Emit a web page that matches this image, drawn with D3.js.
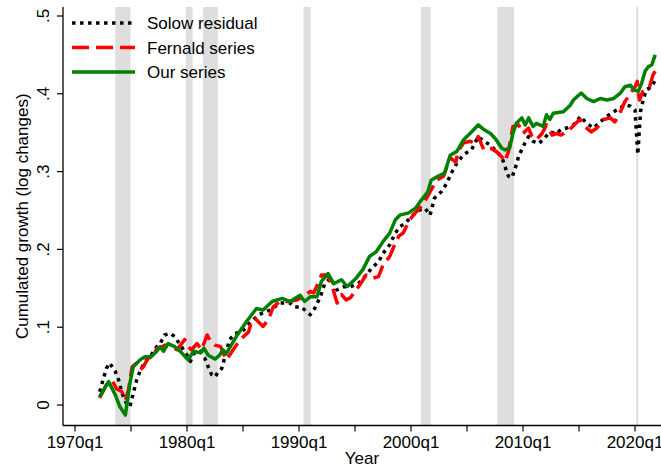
<!DOCTYPE html>
<html>
<head>
<meta charset="utf-8">
<script src="https://cdn.jsdelivr.net/npm/d3@7"></script>
<style>
  body { margin: 0; background: #fff; }
  svg text { font-family: "Liberation Sans", Arial, sans-serif; fill: #000; }
</style>
</head>
<body>
<div id="chart"></div>
<script>
// Recession bands (decimal years)
const recStart = [1973.6, 1979.9, 1981.45, 1990.4, 2000.9, 2007.7, 2020.1];
const recEnd = [1974.95, 1980.5, 1982.75, 1991.05, 2001.76, 2009.2, 2020.3];

// Solow residual
const solowYear = [1972.2, 1972.8, 1973.1, 1973.6, 1973.9, 1974.2, 1974.6, 1974.9, 1975.2, 1975.5, 1975.8, 1976.25, 1976.7, 1977.3, 1977.6, 1978.0, 1978.5, 1978.9, 1979.4, 1980.0, 1980.3, 1980.6, 1981.2, 1981.6, 1981.9, 1982.2, 1982.5, 1982.8, 1983.1, 1983.8, 1984.3, 1984.9, 1985.6, 1986.4, 1987.4, 1988.3, 1989.2, 1989.6, 1990.2, 1990.7, 1991.0, 1991.4, 1991.9, 1992.3, 1992.8, 1993.4, 1994.0, 1994.6, 1995.3, 1996.0, 1996.5, 1997.1, 1997.5, 1998.1, 1998.6, 1999.0, 1999.5, 1999.9, 2000.4, 2000.8, 2001.25, 2001.7, 2002.1, 2002.7, 2003.2, 2003.6, 2004.1, 2004.7, 2005.4, 2006.0, 2006.5, 2007.1, 2007.6, 2008.1, 2008.4, 2008.7, 2009.0, 2009.3, 2009.6, 2010.0, 2010.5, 2010.9, 2011.4, 2011.8, 2012.4, 2013.0, 2013.4, 2013.9, 2014.5, 2014.9, 2015.1, 2015.7, 2016.3, 2016.9, 2017.5, 2018.1, 2018.7, 2019.1, 2019.6, 2020.0, 2020.25, 2020.5, 2020.75, 2021.0, 2021.5, 2021.8];
const solowValue = [0.017, 0.047, 0.054, 0.043, 0.032, 0.015, 0.002, -0.002, 0.015, 0.032, 0.043, 0.056, 0.062, 0.075, 0.079, 0.090, 0.092, 0.088, 0.077, 0.064, 0.056, 0.066, 0.069, 0.060, 0.049, 0.039, 0.036, 0.043, 0.047, 0.084, 0.092, 0.094, 0.105, 0.116, 0.122, 0.131, 0.131, 0.126, 0.126, 0.120, 0.116, 0.124, 0.139, 0.156, 0.163, 0.148, 0.152, 0.152, 0.156, 0.167, 0.176, 0.184, 0.195, 0.206, 0.221, 0.229, 0.234, 0.240, 0.247, 0.251, 0.253, 0.244, 0.266, 0.274, 0.285, 0.298, 0.311, 0.322, 0.328, 0.345, 0.339, 0.334, 0.326, 0.319, 0.306, 0.294, 0.292, 0.304, 0.319, 0.332, 0.345, 0.339, 0.336, 0.341, 0.351, 0.349, 0.354, 0.356, 0.360, 0.366, 0.371, 0.362, 0.356, 0.364, 0.371, 0.377, 0.382, 0.386, 0.384, 0.379, 0.322, 0.378, 0.393, 0.405, 0.409, 0.418];

// Fernald series
const fernaldYear = [1972.2, 1972.8, 1973.3, 1973.7, 1974.2, 1974.5, 1974.8, 1975.1, 1975.5, 1975.8, 1976.1, 1976.5, 1977.0, 1977.3, 1977.6, 1978.0, 1978.6, 1979.1, 1979.8, 1980.1, 1980.4, 1980.9, 1981.3, 1981.8, 1982.1, 1982.5, 1983.0, 1983.5, 1983.8, 1984.4, 1984.9, 1985.5, 1985.8, 1986.1, 1986.5, 1986.8, 1987.3, 1987.7, 1988.3, 1989.0, 1989.8, 1990.4, 1991.0, 1991.3, 1991.7, 1992.0, 1992.6, 1993.1, 1993.4, 1993.8, 1994.2, 1994.6, 1995.0, 1995.4, 1996.0, 1996.6, 1997.1, 1997.5, 1998.1, 1998.6, 1998.9, 1999.3, 1999.8, 2000.2, 2000.65, 2001.1, 2001.7, 2002.3, 2002.9, 2003.5, 2004.0, 2004.2, 2004.7, 2005.3, 2005.7, 2006.0, 2006.5, 2007.1, 2007.6, 2008.1, 2008.4, 2008.7, 2009.1, 2009.6, 2010.0, 2010.5, 2010.8, 2011.2, 2011.7, 2012.1, 2012.6, 2013.0, 2013.4, 2013.9, 2014.3, 2014.7, 2015.1, 2015.5, 2016.1, 2016.6, 2017.2, 2017.8, 2018.2, 2018.7, 2019.1, 2019.4, 2019.8, 2020.0, 2020.2, 2020.3, 2020.4, 2020.7, 2021.0, 2021.3, 2021.6, 2021.8];
const fernaldValue = [0.009, 0.026, 0.032, 0.021, 0.017, 0.006, 0.021, 0.049, 0.054, 0.045, 0.049, 0.060, 0.062, 0.073, 0.073, 0.077, 0.075, 0.071, 0.084, 0.075, 0.071, 0.079, 0.071, 0.090, 0.082, 0.077, 0.075, 0.058, 0.064, 0.077, 0.086, 0.094, 0.109, 0.111, 0.105, 0.101, 0.111, 0.126, 0.133, 0.133, 0.135, 0.139, 0.146, 0.144, 0.156, 0.167, 0.167, 0.146, 0.131, 0.142, 0.135, 0.138, 0.146, 0.154, 0.167, 0.163, 0.165, 0.180, 0.191, 0.208, 0.217, 0.221, 0.236, 0.244, 0.251, 0.259, 0.274, 0.289, 0.294, 0.318, 0.312, 0.326, 0.337, 0.339, 0.336, 0.345, 0.328, 0.330, 0.326, 0.319, 0.313, 0.326, 0.358, 0.360, 0.349, 0.356, 0.345, 0.341, 0.349, 0.360, 0.347, 0.349, 0.347, 0.351, 0.356, 0.362, 0.367, 0.358, 0.351, 0.356, 0.367, 0.369, 0.364, 0.377, 0.390, 0.396, 0.405, 0.409, 0.416, 0.401, 0.392, 0.403, 0.407, 0.409, 0.424, 0.429];

// Our series
const oursYear = [1972.17, 1973.0, 1973.6, 1974.0, 1974.5, 1974.9, 1975.2, 1975.8, 1976.25, 1976.8, 1977.3, 1977.6, 1977.9, 1978.3, 1978.9, 1979.4, 1980.1, 1980.6, 1981.2, 1981.5, 1981.9, 1982.5, 1982.9, 1983.2, 1983.5, 1984.4, 1985.3, 1986.2, 1986.8, 1987.6, 1988.5, 1989.2, 1990.1, 1990.5, 1991.0, 1991.6, 1992.0, 1992.6, 1993.1, 1993.8, 1994.3, 1995.1, 1995.7, 1996.3, 1996.9, 1997.5, 1998.1, 1998.6, 1999.0, 1999.8, 2000.4, 2000.8, 2001.5, 2001.8, 2002.4, 2003.0, 2003.5, 2004.1, 2004.7, 2005.4, 2006.0, 2006.5, 2007.1, 2007.6, 2008.1, 2008.4, 2008.8, 2009.1, 2009.4, 2009.9, 2010.2, 2010.5, 2010.9, 2011.2, 2011.8, 2012.1, 2012.4, 2012.7, 2013.6, 2014.2, 2014.5, 2014.8, 2015.2, 2015.7, 2016.3, 2016.9, 2017.5, 2018.1, 2018.7, 2019.1, 2019.6, 2019.9, 2020.3, 2020.6, 2020.9, 2021.2, 2021.5, 2021.8];
const oursValue = [0.010, 0.030, 0.013, -0.002, -0.013, 0.028, 0.049, 0.058, 0.062, 0.062, 0.069, 0.075, 0.069, 0.079, 0.075, 0.069, 0.058, 0.069, 0.067, 0.073, 0.064, 0.059, 0.064, 0.071, 0.066, 0.088, 0.107, 0.124, 0.122, 0.133, 0.137, 0.133, 0.141, 0.133, 0.139, 0.139, 0.159, 0.169, 0.156, 0.161, 0.152, 0.163, 0.174, 0.191, 0.197, 0.210, 0.221, 0.238, 0.244, 0.247, 0.253, 0.261, 0.274, 0.289, 0.294, 0.298, 0.321, 0.326, 0.341, 0.351, 0.360, 0.354, 0.349, 0.341, 0.330, 0.328, 0.330, 0.349, 0.362, 0.369, 0.360, 0.369, 0.358, 0.362, 0.358, 0.373, 0.367, 0.375, 0.377, 0.385, 0.392, 0.396, 0.401, 0.394, 0.390, 0.394, 0.392, 0.394, 0.401, 0.409, 0.411, 0.405, 0.403, 0.414, 0.429, 0.435, 0.437, 0.450];

// Axis ticks
const xTicks = [1970, 1975, 1980, 1985, 1990, 1995, 2000, 2005, 2010, 2015, 2020];
const xLabelTicks = [1970, 1980, 1990, 2000, 2010, 2020];
const yTicks = [0, 0.1, 0.2, 0.3, 0.4, 0.5];

const seriesNames = ["Solow residual", "Fernald series", "Our series"];

function zip(ts, vs) {
  return ts.map((t, i) => ({ t: t, v: vs[i] }));
}

const W = 661, H = 468;
const margin = { top: 7, right: 0, bottom: 42.5, left: 63 };
const width = W - margin.left - margin.right;
const height = H - margin.top - margin.bottom;

const svg = d3.select("#chart").append("svg")
  .attr("width", W)
  .attr("height", H);

const g = svg.append("g")
  .attr("transform", "translate(" + margin.left + "," + margin.top + ")");

// scales: 1970q1 sits 12px in, 11.2px per year
const x = d3.scaleLinear()
  .domain([1970 - 12 / 11.2, 1970 + (width - 12) / 11.2])
  .range([0, width]);

const y = d3.scaleLinear()
  .domain([0, 0.5])
  .range([398, 9]);

// Recession shading
g.selectAll(".rec")
  .data(recStart.map((s, i) => [s, recEnd[i]]))
  .enter().append("rect")
  .attr("class", "rec")
  .attr("x", d => x(d[0]))
  .attr("width", d => x(d[1]) - x(d[0]))
  .attr("y", 0)
  .attr("height", height)
  .attr("fill", "#dedede");

// Lines
const line = d3.line()
  .x(d => x(d.t))
  .y(d => y(d.v));

const styles = [
  { color: "#000", dash: "3.5,4.5", data: zip(solowYear, solowValue) },
  { color: "#ff0000", dash: "17,7", data: zip(fernaldYear, fernaldValue) },
  { color: "#008000", dash: null, data: zip(oursYear, oursValue) }
];

styles.forEach(s => {
  g.append("path")
    .datum(s.data)
    .attr("d", line)
    .attr("fill", "none")
    .attr("stroke", s.color)
    .attr("stroke-width", 3.5)
    .attr("stroke-linejoin", "round")
    .attr("stroke-dasharray", s.dash);
});

// Axes
const xAxis = g.append("g").attr("transform", "translate(0," + height + ")");
xAxis.append("line")
  .attr("x1", 0).attr("x2", width)
  .attr("stroke", "#000").attr("stroke-width", 1.3);
xAxis.selectAll(".tick")
  .data(xTicks)
  .enter().append("line")
  .attr("x1", d => x(d)).attr("x2", d => x(d))
  .attr("y1", 0).attr("y2", 6)
  .attr("stroke", "#000").attr("stroke-width", 1.2);
xAxis.selectAll(".lab")
  .data(xLabelTicks)
  .enter().append("text")
  .attr("x", d => x(d))
  .attr("y", 22)
  .attr("text-anchor", "middle")
  .style("font-size", "17px")
  .text(d => d + "q1");

const yAxis = g.append("g");
yAxis.append("line")
  .attr("y1", 0).attr("y2", height)
  .attr("stroke", "#000").attr("stroke-width", 1.3);
yAxis.selectAll(".tick")
  .data(yTicks)
  .enter().append("line")
  .attr("x1", -6).attr("x2", 0)
  .attr("y1", d => y(d)).attr("y2", d => y(d))
  .attr("stroke", "#000").attr("stroke-width", 1.2);
yAxis.selectAll(".lab")
  .data(yTicks)
  .enter().append("text")
  .attr("transform", d => "translate(-14," + y(d) + ") rotate(-90)")
  .attr("text-anchor", "middle")
  .style("font-size", "17px")
  .text(d => d === 0 ? "0" : d3.format(".1f")(d).replace("0.", "."));

// Axis titles
svg.append("text")
  .attr("x", margin.left + width / 2)
  .attr("y", 464)
  .attr("text-anchor", "middle")
  .style("font-size", "17px")
  .text("Year");

svg.append("text")
  .attr("transform", "translate(28," + (margin.top + height / 2) + ") rotate(-90)")
  .attr("text-anchor", "middle")
  .style("font-size", "17px")
  .text("Cumulated growth (log changes)");

// Legend
const legend = svg.append("g").attr("transform", "translate(72,23)");
styles.forEach((s, i) => {
  legend.append("line")
    .attr("x1", 0).attr("x2", 63)
    .attr("y1", i * 24.5).attr("y2", i * 24.5)
    .attr("stroke", s.color)
    .attr("stroke-width", 3.5)
    .attr("stroke-dasharray", s.dash);
  legend.append("text")
    .attr("x", 75)
    .attr("y", i * 24.5 + 6)
    .style("font-size", "17px")
    .text(seriesNames[i]);
});
</script>
</body>
</html>
